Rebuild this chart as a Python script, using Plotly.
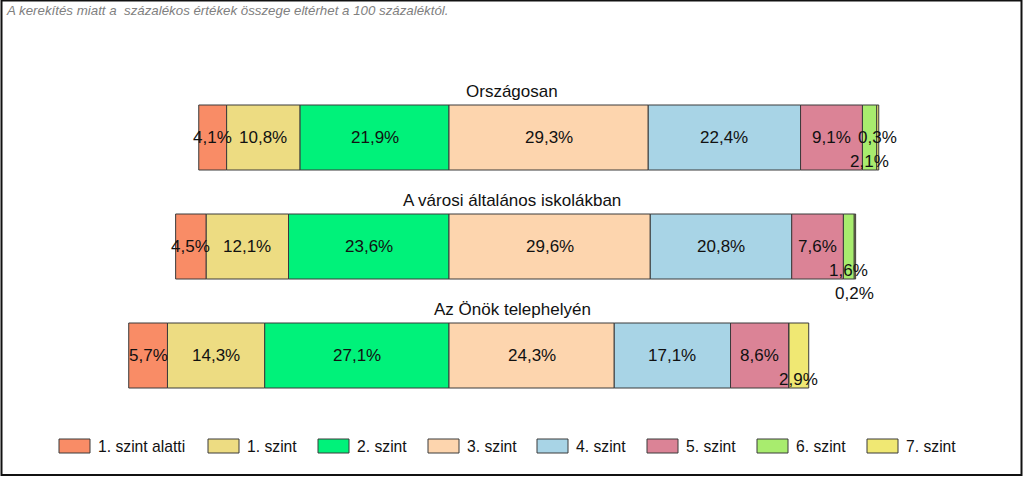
import plotly.graph_objects as go

# ---------------- data ----------------
categories = ["Országosan", "A városi általános iskolákban", "Az Önök telephelyén"]
levels = ["1. szint alatti", "1. szint", "2. szint", "3. szint",
          "4. szint", "5. szint", "6. szint", "7. szint"]
orszagosan = [4.1, 10.8, 21.9, 29.3, 22.4, 9.1, 2.1, 0.3]
varosi = [4.5, 12.1, 23.6, 29.6, 20.8, 7.6, 1.6, 0.2]
telephely = [5.7, 14.3, 27.1, 24.3, 17.1, 8.6, 0.0, 2.9]
note = "A kerekítés miatt a\u00a0 százalékos értékek összege eltérhet a 100 százaléktól."

# ---------------- style ----------------
colors = ["#F98C66", "#EDDC82", "#00F27A", "#FDD5AE",
          "#A8D4E6", "#DB8396", "#A8EC6E", "#F0E873"]
edge = "#3a3a3a"
FONT = "Liberation Sans, Arial, sans-serif"
W, H = 1024, 478
PX_PER_PCT = 6.8
ZERO_PX = 449          # pixel of the 2./3. szint boundary
ROW_PX = 109           # distance between bars
FIRST_ROW_PX = 137.5
n_neg = 3              # levels drawn left of the centre line
# vertical drop (px) for labels of very thin segments: (row, level) -> px
small_label_drop = {(0, 6): 24, (1, 6): 24, (1, 7): 47, (2, 7): 24}

rows = [orszagosan, varosi, telephely]


def bases_for(vals):
    b = []
    for j in range(len(vals)):
        if j < n_neg:
            b.append(-sum(vals[j:n_neg]))
        else:
            b.append(sum(vals[n_neg:j]))
    return b


all_bases = [bases_for(r) for r in rows]

fig = go.Figure()
for j, lvl in enumerate(levels):
    fig.add_trace(go.Bar(
        orientation="h",
        name=lvl,
        y=list(range(len(categories))),
        x=[r[j] for r in rows],
        base=[b[j] for b in all_bases],
        width=65 / ROW_PX,
        marker=dict(color=colors[j], line=dict(color=edge, width=1)),
        showlegend=False,
        hoverinfo="skip",
    ))

annotations = []
# value labels
for i, r in enumerate(rows):
    for j, v in enumerate(r):
        if v <= 0:
            continue
        txt = f"{v:.1f}".replace(".", ",") + "%"
        annotations.append(dict(
            x=all_bases[i][j] + v / 2, y=i, xref="x", yref="y",
            text=txt, showarrow=False,
            yshift=-small_label_drop.get((i, j), 0),
            font=dict(family=FONT, size=17, color="#111111"),
            xanchor="center", yanchor="middle",
        ))
# row titles
for i, c in enumerate(categories):
    annotations.append(dict(
        x=0.5, y=i - 46 / ROW_PX, xref="paper", yref="y",
        text=c, showarrow=False,
        font=dict(family=FONT, size=17, color="#111111"),
        xanchor="center", yanchor="middle",
    ))
# note
annotations.append(dict(
    x=4 / W, y=1 - 10 / H, xref="paper", yref="paper",
    text="<i>" + note + "</i>", showarrow=False,
    font=dict(family=FONT, size=13.3, color="#808080"),
    xanchor="left", yanchor="middle",
))

# manual legend
legend_x_px = [59, 208, 318, 428, 537, 647, 757, 867]
shapes = []
for j, lvl in enumerate(levels):
    x0 = legend_x_px[j]
    shapes.append(dict(
        type="rect", xref="paper", yref="paper",
        x0=x0 / W, x1=(x0 + 31) / W, y0=1 - 453 / H, y1=1 - 439 / H,
        fillcolor=colors[j], line=dict(color=edge, width=1),
    ))
    annotations.append(dict(
        x=(x0 + 37) / W, y=1 - 446 / H, xref="paper", yref="paper",
        text=lvl, showarrow=False,
        font=dict(family=FONT, size=15.7, color="#111111"),
        xanchor="left", yanchor="middle",
    ))

# outer frame
shapes.append(dict(
    type="rect", xref="paper", yref="paper",
    x0=1.5 / W, x1=1021.5 / W, y0=1 - 475 / H, y1=1 - 0.5 / H,
    line=dict(color="#111111", width=2), fillcolor="rgba(0,0,0,0)",
))

x_left = -ZERO_PX / PX_PER_PCT
x_right = (W - ZERO_PX) / PX_PER_PCT
y_top = -FIRST_ROW_PX / ROW_PX
y_bottom = (H - FIRST_ROW_PX) / ROW_PX

fig.update_layout(
    width=W, height=H,
    margin=dict(l=0, r=0, t=0, b=0),
    paper_bgcolor="white", plot_bgcolor="white",
    barmode="overlay",
    xaxis=dict(range=[x_left, x_right], visible=False, fixedrange=True),
    yaxis=dict(range=[y_bottom, y_top], visible=False, fixedrange=True),
    annotations=annotations,
    shapes=shapes,
    showlegend=False,
)

fig.write_html(
    "out.html",
    config={"displayModeBar": False},
    post_script="document.body.style.margin='0';document.body.style.overflow='hidden';",
)
